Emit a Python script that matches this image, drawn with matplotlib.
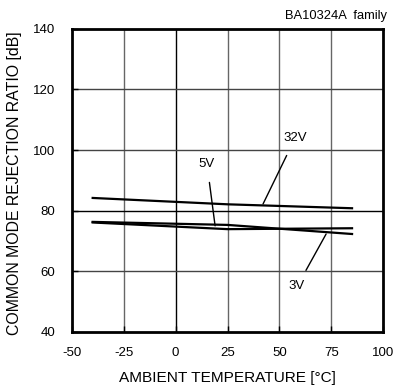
import matplotlib
matplotlib.use("Agg")
import matplotlib.pyplot as plt

plt.rcParams['font.family'] = ['Liberation Sans', 'DejaVu Sans']

temp = [-40, 25, 85]
v32 = [84.2, 82.1, 80.8]
v5 = [76.1, 73.9, 74.2]
v3 = [76.3, 75.3, 72.3]

xticks = [-50, -25, 0, 25, 50, 75, 100]
yticks = [40, 60, 80, 100, 120, 140]

fig = plt.figure(figsize=(3.93, 3.85), dpi=100)
ax = fig.add_axes([0.183, 0.138, 0.792, 0.787])

for x in xticks[1:-1]:
    ax.axvline(x, color='black' if x == 0 else '#666666', lw=1.0, zorder=1)
for y in yticks[1:-1]:
    ax.axhline(y, color='black' if y == 80 else '#444444', lw=1.0, zorder=1)

for s in (v32, v5, v3):
    ax.plot(temp, s, color='black', lw=1.6, zorder=3)

ax.annotate('32V', xy=(42.1, 82.2), xytext=(57.6, 104), fontsize=9.5,
            ha='center', va='center',
            arrowprops=dict(arrowstyle='-', color='black', lw=1.0, shrinkA=7, shrinkB=0))
ax.annotate('5V', xy=(19, 75), xytext=(15.1, 95.4), fontsize=9.5,
            ha='center', va='center',
            arrowprops=dict(arrowstyle='-', color='black', lw=1.0, shrinkA=7, shrinkB=0))
ax.annotate('3V', xy=(72.5, 72.3), xytext=(58.5, 55.0), fontsize=9.5,
            ha='center', va='center',
            arrowprops=dict(arrowstyle='-', color='black', lw=1.0, shrinkA=6, shrinkB=0))

ax.set_xlim(-50, 100)
ax.set_ylim(40, 140)
ax.set_xticks(xticks)
ax.set_yticks(yticks)
ax.set_xticklabels([str(v) for v in xticks], fontsize=9.5)
ax.set_yticklabels([str(v) for v in yticks], fontsize=9.5)
ax.tick_params(direction='in', length=4, width=1)
ax.tick_params(axis='x', pad=11)
ax.tick_params(axis='y', pad=12)
for sp in ax.spines.values():
    sp.set_linewidth(2)

ax.set_xlabel('AMBIENT TEMPERATURE [°C]', fontsize=11.1, va='center')
ax.set_ylabel('COMMON MODE REJECTION RATIO [dB]', fontsize=11.4)
ax.xaxis.set_label_coords(0.5, -0.152)
ax.yaxis.set_label_coords(-0.16, 0.49)
fig.text(0.985, 0.958, 'BA10324A  family', ha='right', va='center', fontsize=9.3)

fig.savefig('out.png', dpi=100)
